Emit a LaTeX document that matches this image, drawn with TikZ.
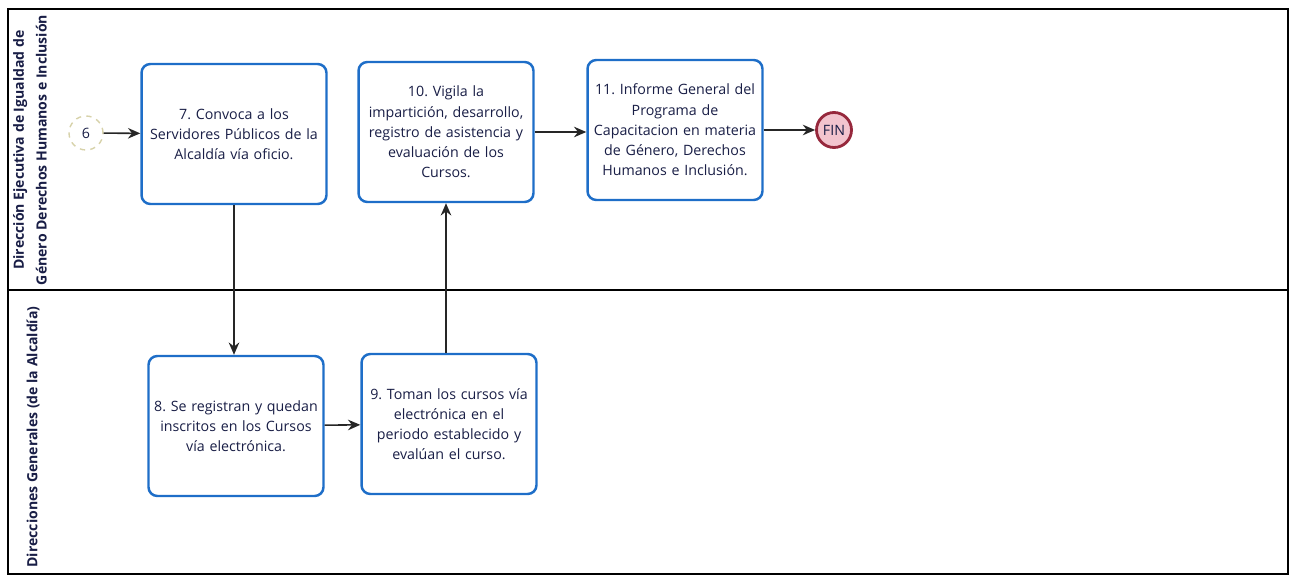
\documentclass[tikz,border=0pt]{standalone}
\usepackage{fontspec}
\setmainfont{Open Sans}
\frenchspacing
\usetikzlibrary{arrows.meta,positioning}
\definecolor{taskblue}{RGB}{30,110,200}
\definecolor{inkblue}{RGB}{25,30,70}
\definecolor{finred}{RGB}{150,40,60}
\definecolor{finpink}{RGB}{242,196,206}
\definecolor{startline}{RGB}{215,210,170}
\tikzset{
  task/.style={draw=taskblue, line width=1.4pt, rounded corners=5pt, fill=white,
    minimum width=3.5cm, minimum height=2.8cm, text width=3.45cm, inner xsep=0.5pt,
    align=center, text=inkblue},
  lanelbl/.style={rotate=90, font=\bfseries\fontsize{8}{13}\selectfont, text=inkblue, align=center},
  flow/.style={-{Stealth[length=7pt,width=6pt]}, line width=0.9pt, draw=black!85}
}
\begin{document}
\begin{tikzpicture}[x=0.02cm,y=-0.02cm, every node/.style={font=\fontsize{8.1}{11.5}\selectfont}]
\useasboundingbox (0,0) rectangle (1294,577);
% Pool and lanes
\draw[line width=0.9pt] (8,9) rectangle (1288,574);
\draw[line width=0.9pt] (8,290) -- (1288,290);
\node[lanelbl] (laneA) at (30,150) {Dirección Ejecutiva de Igualdad de\\Género Derechos Humanos e Inclusión};
\node[lanelbl] (laneB) at (33,437) {Direcciones Generales (de la Alcaldía)};

% Events
\node[circle, draw=startline, dashed, line width=0.8pt, minimum size=0.68cm, text=inkblue] (ini) at (86,133) {6};
\node[circle, draw=finred, fill=finpink, line width=1.6pt, minimum size=0.7cm, inner sep=0pt, text=inkblue] (fin) at (834,130) {FIN};

% Tasks
\node[task, minimum width=3.7cm, text width=3.6cm] (t7) at (234,134) {7. Convoca a los\\Servidores Públicos de la\\Alcaldía vía oficio.};
\node[task] (t10) at (446,132) {10. Vigila la\\impartición, desarrollo,\\registro de asistencia y\\evaluación de los\\Cursos.};
\node[task] (t11) at (675,130) {11. Informe General del\\Programa de\\Capacitacion en materia\\de Género, Derechos\\Humanos e Inclusión.};
\node[task] (t8) at (236,426) {8. Se registran y quedan\\inscritos en los Cursos\\vía electrónica.};
\node[task] (t9) at (449,424) {9. Toman los cursos vía\\electrónica en el\\periodo establecido y\\evalúan el curso.};

% Flows
\draw[flow] (ini) -- (t7);
\draw[flow] (t7) -- (t7 |- t8.north);
\draw[flow] (t8) -- (t9);
\draw[flow] (t9.north -| t10) -- (t10);
\draw[flow] (t10.east) -- (t11.west |- t10.east);
\draw[flow] (t11) -- (fin);
\end{tikzpicture}
\end{document}
